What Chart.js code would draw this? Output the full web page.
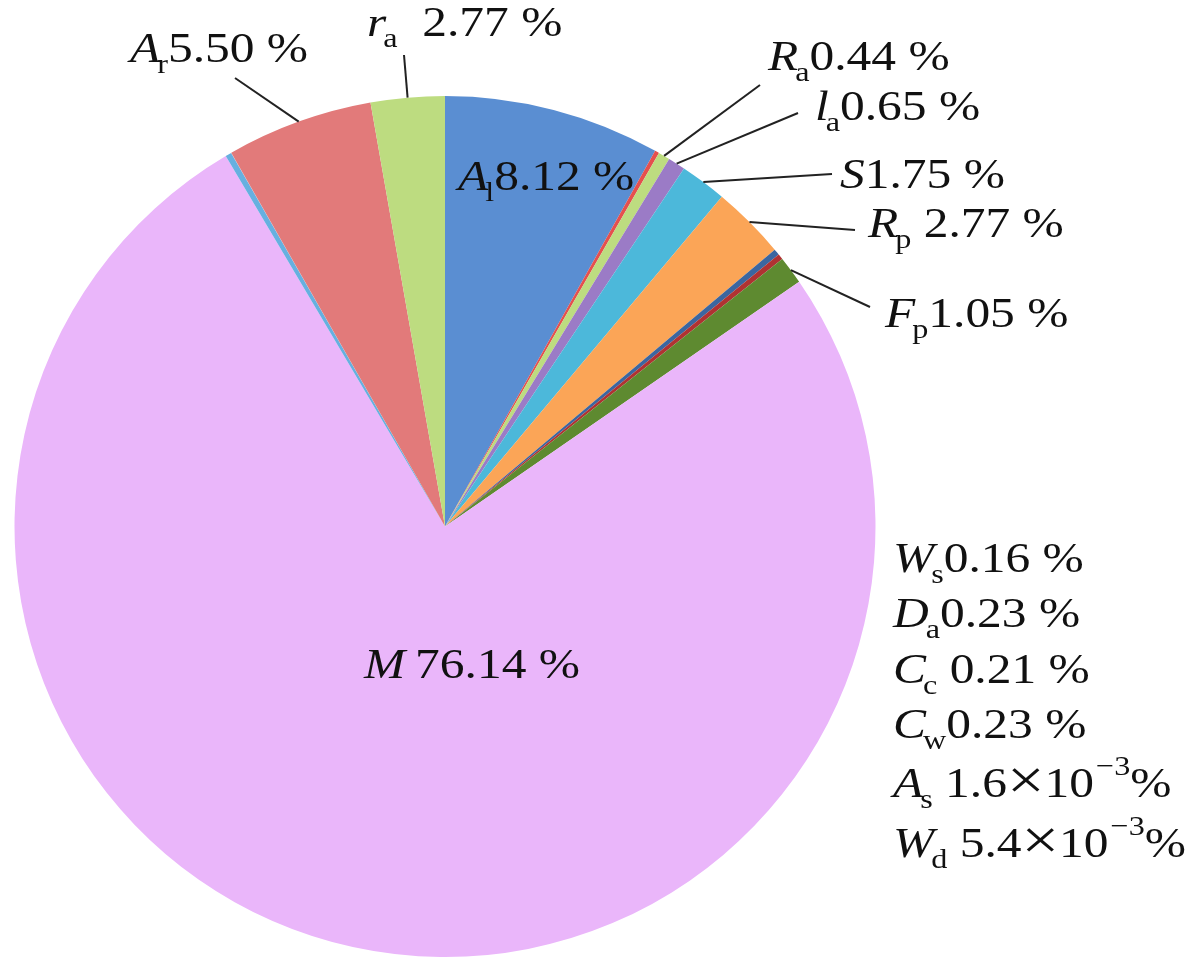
<!DOCTYPE html>
<html>
<head>
<meta charset="utf-8">
<script src="https://cdn.jsdelivr.net/npm/chart.js@4.4.1/dist/chart.umd.min.js"></script>
<style>
  body { margin: 0; background: #fff; }
  #wrap { width: 1200px; height: 975px; }
</style>
</head>
<body>
<div id="wrap"><canvas id="pieChart" width="1200" height="975"></canvas></div>
<script>
// slices, clockwise from 12 o'clock
const symbols = ['A', 'W', 'R', 'l', 'S', 'R', 'D', 'C', 'F', 'M', 'C', 'A', 'W', 'A', 'r'];
const subs    = ['l', 's', 'a', 'a', '',  'p', 'a', 'c', 'p', '',  'w', 's', 'd', 'r', 'a'];
const values  = [8.12, 0.16, 0.44, 0.65, 1.75, 2.77, 0.23, 0.21, 1.05, 76.14, 0.23, 0.0016, 0.0054, 5.50, 2.77];
const valueText = ['8.12 %', '0.16 %', '0.44 %', '0.65 %', '1.75 %', ' 2.77 %', '0.23 %', ' 0.21 %', '1.05 %',
                   '\u200976.14 %', '0.23 %', ' 1.6×10', ' 5.4×10', '5.50 %', '  2.77 %'];
const exponents = ['', '', '', '', '', '', '', '', '', '', '', '−3', '−3', '', ''];
const colors = ['#5a8ed2', '#e5504e', '#bddc80', '#9b7bc6', '#4cb8da', '#fba557', '#3b66a0', '#b03232',
                '#5e8a30', '#eab6fa', '#66b0e0', '#8fb0dd', '#e3a0a0', '#e27a7a', '#bddc80'];

// where each label sits (text x / baseline y) and where its leader line ends
const labelLayout = [
    { x: 458, y: 190 },
    { x: 893, y: 572 },
    { x: 768, y: 70,  lx: 760, ly: 85 },
    { x: 815, y: 120, lx: 798, ly: 113 },
    { x: 840, y: 188, lx: 832, ly: 174 },
    { x: 868, y: 237, lx: 855, ly: 230 },
    { x: 893, y: 627 },
    { x: 893, y: 683 },
    { x: 885, y: 327, lx: 870, ly: 307 },
    { x: 364, y: 678 },
    { x: 893, y: 738 },
    { x: 893, y: 797 },
    { x: 893, y: 857 },
    { x: 130, y: 62,  lx: 235, ly: 78 },
    { x: 367, y: 36,  lx: 404, ly: 55 }
];

const FONT = '"Liberation Serif", "Times New Roman", serif';
const STRETCH = 1.15;

function drawPart(ctx, text, font, x, y) {
    ctx.font = font;
    ctx.save();
    ctx.translate(x, y);
    ctx.scale(STRETCH, 1);
    ctx.fillText(text, 0, 0);
    ctx.restore();
    return ctx.measureText(text).width * STRETCH;
}

const labelPlugin = {
    id: 'sliceLabels',
    afterDatasetsDraw(chart) {
        const ctx = chart.ctx;
        const arcs = chart.getDatasetMeta(0).data;
        ctx.save();
        ctx.fillStyle = '#111';
        ctx.strokeStyle = '#222';
        ctx.lineWidth = 2;
        ctx.textBaseline = 'alphabetic';
        arcs.forEach((arc, i) => {
            const pos = labelLayout[i];
            if (pos.lx !== undefined) {
                const mid = (arc.startAngle + arc.endAngle) / 2;
                const sx = arc.x + Math.cos(mid) * arc.outerRadius;
                const sy = arc.y + Math.sin(mid) * arc.outerRadius;
                ctx.beginPath();
                ctx.moveTo(sx, sy);
                ctx.lineTo(pos.lx, pos.ly);
                ctx.stroke();
            }
            const big = '43px ' + FONT;
            const small = '28px ' + FONT;
            let x = pos.x;
            x += drawPart(ctx, symbols[i], 'italic ' + big, x, pos.y);
            if (subs[i]) {
                x += drawPart(ctx, subs[i], small, x - 3, pos.y + 11) - 3;
            }
            const pieces = valueText[i].split('×');
            x += drawPart(ctx, pieces[0], big, x, pos.y);
            if (pieces.length > 1) {
                x += drawPart(ctx, '×', '58px ' + FONT, x, pos.y + 2);
                x += drawPart(ctx, pieces[1], big, x, pos.y);
            }
            if (exponents[i]) {
                x += drawPart(ctx, exponents[i], small, x + 2, pos.y - 22) + 2;
                drawPart(ctx, '%', big, x, pos.y);
            }
        });
        ctx.restore();
    }
};

const chart = new Chart(document.getElementById('pieChart').getContext('2d'), {
    type: 'pie',
    data: {
        labels: symbols.map((s, i) => s + subs[i]),
        datasets: [{
            data: values,
            backgroundColor: colors,
            borderWidth: 0
        }]
    },
    options: {
        responsive: false,
        animation: false,
        layout: {
            padding: { left: 14, right: 324, top: 96, bottom: 18 }
        },
        plugins: {
            legend: { display: false },
            tooltip: { enabled: false }
        }
    },
    plugins: [labelPlugin]
});
</script>
</body>
</html>
